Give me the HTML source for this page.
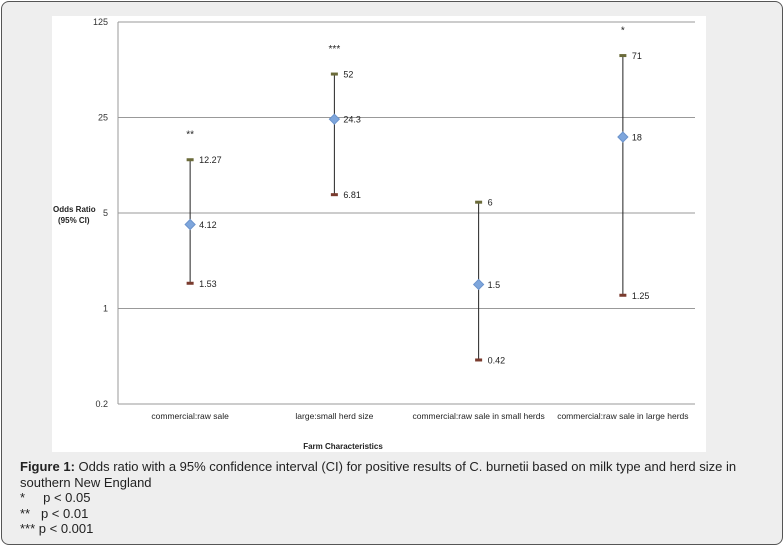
<!DOCTYPE html>
<html><head><meta charset="utf-8"><style>
body{margin:0;width:784px;height:546px;background:#fff;font-family:"Liberation Sans",sans-serif;}
#frame{position:absolute;left:1px;top:1px;width:780px;height:542px;border:1px solid #555;border-radius:8px;background:#eeeeee;}
#cap{position:absolute;left:20px;top:459px;width:750px;font-size:13px;color:#222;line-height:15.5px;}
</style></head><body>
<div id="frame"></div>
<svg id="chart" width="784" height="546" style="position:absolute;left:0;top:0">
<rect x="52" y="16" width="654" height="436" fill="#fff"/>
</svg>
<div id="cap"><b>Figure 1:</b> Odds ratio with a 95% confidence interval (CI) for positive results of C. burnetii based on milk type and herd size in southern New England<br>*&nbsp;&nbsp;&nbsp;&nbsp; p &lt; 0.05<br>**&nbsp;&nbsp; p &lt; 0.01<br>*** p &lt; 0.001</div>
<script>
const categories=["commercial:raw sale","large:small herd size","commercial:raw sale in small herds","commercial:raw sale in large herds"];
const oddsRatio=[4.12,24.3,1.5,18];
const lowerCI=[1.53,6.81,0.42,1.25];
const upperCI=[12.27,52,6,71];
const stars=["**","***","","*"];
const ticks=[0.2,1,5,25,125];
const svg=document.getElementById('chart');
const NS='http://www.w3.org/2000/svg';
const L=118,R=695,T=22,B=404;
function y(v){return B-(Math.log(v)-Math.log(0.2))/(Math.log(125)-Math.log(0.2))*(B-T);}
function x(i){return L+(R-L)/categories.length*(i+0.5);}
function el(t,a){const e=document.createElementNS(NS,t);for(const k in a)e.setAttribute(k,a[k]);svg.appendChild(e);return e;}
ticks.forEach(t=>{
 const g=el('line',{x1:L,x2:R,y1:y(t),y2:y(t),stroke:'#999','stroke-width':1});
 
 
 const tx=el('text',{x:L-10,y:y(t)+3,'text-anchor':'end','font-size':9,fill:'#333'});
 tx.textContent=t;
 
 
});
const ax=el('line',{x1:L,x2:L,y1:T,y2:B,stroke:'#999'});


categories.forEach((c,i)=>{
 const cx=x(i);
 const w=el('line',{x1:cx,x2:cx,y1:y(upperCI[i]),y2:y(lowerCI[i]),stroke:'#222','stroke-width':1});
 
 
 [upperCI[i],lowerCI[i]].forEach((v,j)=>{
  const cap=el('rect',{x:cx-3.5,y:y(v)-1.5,width:7,height:3,fill:j?'#7a3b2e':'#6b6b3a'});
  
  
  const lt=el('text',{x:cx+9,y:y(v)+3.5,'font-size':9,fill:'#222'});
  lt.textContent=v;
  
  
 });
 const py=y(oddsRatio[i]);
 const d=el('polygon',{points:`${cx},${py-5} ${cx+5},${py} ${cx},${py+5} ${cx-5},${py}`,fill:'#7ea6dc',stroke:'#6b93cc'});
 
 
 const vt=el('text',{x:cx+9,y:py+3.5,'font-size':9,fill:'#222'});
 vt.textContent=oddsRatio[i];
 
 
 if(stars[i]){
  const st=el('text',{x:cx,y:y(upperCI[i])-22,'text-anchor':'middle','font-size':10,fill:'#222'});
  st.textContent=stars[i];
  
  
 }
 const ct=el('text',{x:cx,y:419,'text-anchor':'middle','font-size':8.5,fill:'#222'});
 ct.textContent=c;
 
 
});
const xt=el('text',{x:343,y:449,'text-anchor':'middle','font-size':8,'font-weight':'bold',fill:'#222'});
xt.textContent='Farm Characteristics';


const yt1=el('text',{x:53,y:212,'font-size':8,'font-weight':'bold',fill:'#222'});
yt1.textContent='Odds Ratio';


const yt2=el('text',{x:58,y:223,'font-size':8,'font-weight':'bold',fill:'#222'});
yt2.textContent='(95% CI)';


</script>
</body></html>
